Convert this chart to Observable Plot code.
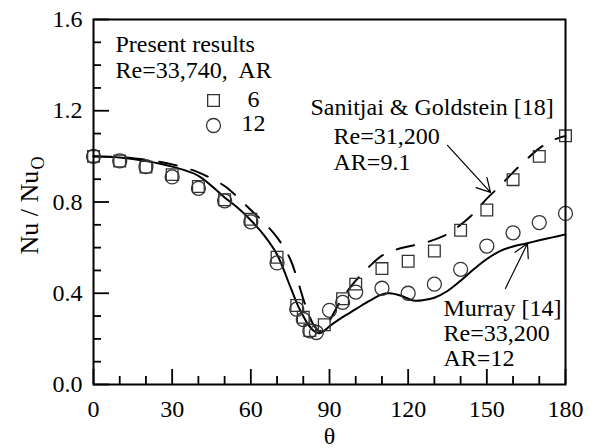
<!DOCTYPE html>
<html><head><meta charset="utf-8">
<script src="https://cdn.jsdelivr.net/npm/d3@7"></script>
<script src="https://cdn.jsdelivr.net/npm/@observablehq/plot@0.6"></script>
<style>
body{margin:0;background:#fff}
#chart svg, #chart svg text { font-family: "Liberation Serif", "Times New Roman", serif !important; }
</style>
</head><body><div id="chart"></div>
<script>
// Present results, AR = 6 (squares)
const theta6 = [0,10,20,30,40,50,60,70,77.5,80,82.5,88,95,100,110,120,130,140,150,160,170,180];
const nu6    = [1.00,0.98,0.953,0.92,0.868,0.81,0.724,0.558,0.346,0.295,0.237,0.262,0.376,0.44,0.508,0.54,0.585,0.676,0.765,0.898,1.0,1.09];
// Present results, AR = 12 (circles)
const theta12 = [0,10,20,30,40,50,60,70,77.5,80,82.5,85,90,95,100,110,120,130,140,150,160,170,180];
const nu12    = [1.00,0.98,0.955,0.91,0.86,0.805,0.713,0.533,0.33,0.285,0.235,0.228,0.325,0.36,0.405,0.422,0.40,0.44,0.505,0.607,0.665,0.71,0.75];
// Murray [14] (solid)
const thetaM = [0,10,20,30,40,50,55,60,65,70,75,78,80,82,84,86,88,90,95,100,105,110,113,117,122,126,130,135,140,145,150,155,160,165,170,175,180];
const nuM    = [1.0,0.995,0.98,0.955,0.915,0.82,0.775,0.72,0.655,0.57,0.43,0.345,0.30,0.26,0.235,0.225,0.235,0.255,0.295,0.33,0.365,0.395,0.40,0.39,0.368,0.37,0.38,0.41,0.455,0.505,0.55,0.585,0.605,0.618,0.632,0.645,0.658];
// Sanitjai & Goldstein [18] (dashed)
const thetaS = [0,10,20,30,40,50,55,60,65,70,75,78,80,82,84,86,88,90,95,100,105,110,115,120,125,130,135,140,145,150,155,160,165,170,175,180];
const nuS    = [1.0,0.997,0.985,0.965,0.93,0.87,0.82,0.765,0.71,0.645,0.55,0.45,0.375,0.31,0.26,0.235,0.245,0.28,0.38,0.455,0.515,0.565,0.59,0.605,0.617,0.635,0.66,0.70,0.75,0.815,0.87,0.93,0.985,1.035,1.07,1.09];

const xMajor = [0,30,60,90,120,150,180];
const xMinor = [10,20,40,50,70,80,100,110,130,140,160,170];
const yMajor = [0,0.4,0.8,1.2,1.6];
const yMinor = [0.1,0.2,0.3,0.5,0.6,0.7,0.9,1.0,1.1,1.3,1.4,1.5];

const arrows = [
  {x1: 135, y1: 1.048, x2: 151.4, y2: 0.842},
  {x1: 157.1, y1: 0.421, x2: 165.5, y2: 0.618}
];

const pts6 = theta6.map((t,i)=>({t, v: nu6[i]}));
const pts12 = theta12.map((t,i)=>({t, v: nu12[i]}));
const lineM = thetaM.map((t,i)=>({t, v: nuM[i]}));
const lineS = thetaS.map((t,i)=>({t, v: nuS[i]}));

const FONT = "Liberation Serif, Times New Roman, serif";
const FS = 24;
const txt = (s, o) => Plot.text([s], {text: d=>d, frameAnchor: "top-left", textAnchor: "start", lineAnchor: "bottom", fontSize: FS, fontFamily: FONT, fill: "black", ...o});

const chart = Plot.plot({
  width: 598, height: 448,
  marginLeft: 93, marginRight: 33, marginTop: 19, marginBottom: 64,
  style: {fontFamily: FONT, fontSize: FS + "px", background: "white", color: "black"},
  x: {domain: [0,180], label: null},
  y: {domain: [0,1.6], label: null},
  marks: [
    Plot.axisX({ticks: xMajor, tickSize: -15, tickPadding: 30, strokeWidth: 1.8, tickFormat: d=>String(d), fontSize: FS, fontFamily: FONT, label: null}),
    Plot.axisX({ticks: xMinor, tickSize: -8, strokeWidth: 1.8, tickFormat: () => "", label: null}),
    Plot.axisY({ticks: yMajor, tickSize: -16, tickPadding: 27, strokeWidth: 1.8, tickFormat: d3.format(".1f"), fontSize: FS, fontFamily: FONT, label: null}),
    Plot.axisY({ticks: yMinor, tickSize: -8, strokeWidth: 1.8, tickFormat: () => "", label: null}),
    Plot.line(lineM, {x: "t", y: "v", stroke: "black", strokeWidth: 2, curve: "catmull-rom"}),
    Plot.line(lineS, {x: "t", y: "v", stroke: "black", strokeWidth: 2, strokeDasharray: "18,15", curve: "catmull-rom"}),
    Plot.dot(pts6, {x: "t", y: "v", symbol: "square", r: 6.6, stroke: "#333", strokeWidth: 1.3, fill: "none"}),
    Plot.dot(pts12, {x: "t", y: "v", symbol: "circle", r: 7, stroke: "#333", strokeWidth: 1.3, fill: "none"}),
    Plot.arrow(arrows, {x1: "x1", y1: "y1", x2: "x2", y2: "y2", stroke: "black", strokeWidth: 1.2, headLength: 19, headAngle: 58}),
    Plot.frame({stroke: "black", strokeWidth: 2}),
    // legend
    txt("Present results", {dx: 22, dy: 32}),
    txt("Re=33,740,\u00A0 AR", {dx: 22, dy: 58}),
    Plot.dot([0], {frameAnchor: "top-left", dx: 120, dy: 81, symbol: "square", r: 6.6, stroke: "#333", strokeWidth: 1.3, fill: "none"}),
    Plot.dot([0], {frameAnchor: "top-left", dx: 120, dy: 106, symbol: "circle", r: 7, stroke: "#333", strokeWidth: 1.3, fill: "none"}),
    txt("6", {dx: 160, dy: 87, textAnchor: "middle"}),
    txt("12", {dx: 160, dy: 111, textAnchor: "middle"}),
    // annotations
    txt("Sanitjai & Goldstein [18]", {dx: 217, dy: 95}),
    txt("Re=31,200", {dx: 240, dy: 124}),
    txt("AR=9.1", {dx: 240, dy: 150}),
    txt("Murray [14]", {dx: 350, dy: 296}),
    txt("Re=33,200", {dx: 350, dy: 321}),
    txt("AR=12", {dx: 350, dy: 346}),
    // axis titles
    Plot.text(["θ"], {text: d=>d, frameAnchor: "bottom", lineAnchor: "bottom", dy: 59, fontSize: FS, fontFamily: FONT, fill: "black"}),
    Plot.text(["Nu / Nu"], {text: d=>d, frameAnchor: "top-left", textAnchor: "start", lineAnchor: "bottom", rotate: -90, dx: -56, dy: 235, fontSize: 26, fontFamily: FONT, fill: "black"}),
    Plot.text(["O"], {text: d=>d, frameAnchor: "top-left", textAnchor: "start", lineAnchor: "bottom", rotate: -90, dx: -50, dy: 150, fontSize: 18, fontFamily: FONT, fill: "black"})
  ]
});
document.getElementById("chart").appendChild(chart);
</script>
</body></html>
